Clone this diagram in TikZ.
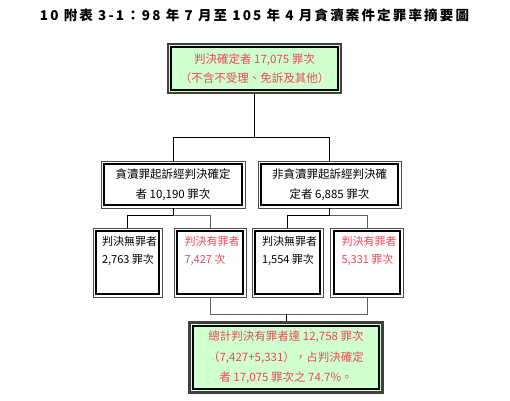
\documentclass[tikz,border=0pt]{standalone}
\usepackage{fontspec}
\setmainfont{Noto Sans CJK TC}
\newfontfamily\titlefont[LetterSpace=16]{Noto Sans CJK TC}
\usetikzlibrary{positioning}

\definecolor{boxgreen}{RGB}{208,255,208}
\definecolor{redtext}{RGB}{236,72,84}

\tikzset{
  wbox/.style={rectangle, draw=gray!60!black, line width=0.9pt, fill=white, inner sep=0pt, align=center,
    font=\fontsize{11.5}{19.5}\selectfont,
    path picture={\draw[black, line width=2.2pt]
      ([shift={(3.2pt,-3.2pt)}]path picture bounding box.north west) rectangle
      ([shift={(-3.2pt,3.2pt)}]path picture bounding box.south east);}},
  gbox/.style={wbox, draw=gray!50!black, line width=2.4pt, fill=boxgreen, text=redtext},
  cellbox/.style={wbox, inner xsep=5.5pt, inner ysep=8pt, font=\fontsize{11}{18}\selectfont},
  conn/.style={draw=black, line width=0.8pt},
  connr/.style={draw=gray!75!black, line width=1pt}
}
\newcommand{\celltext}[1]{\parbox[c][53pt][t]{58pt}{\raggedright\leftskip=3.5pt #1}}

\begin{document}
\begin{tikzpicture}[x=1pt, y=1pt]
    \useasboundingbox (0,0) rectangle (510,400);
    \node[font=\titlefont\bfseries\fontsize{13.5}{15}\selectfont] (title) at (254.5,385) {10 附表 3-1：98 年 7 月至 105 年 4 月貪瀆案件定罪率摘要圖};

    \node[gbox, minimum width=173pt, minimum height=49pt] (total) at (254.5,331.5) {判決確定者 17,075 罪次\\（不含不受理、免訴及其他）};
    \node[wbox, minimum width=144pt, minimum height=47pt] (graft) [below of=total, node distance=116pt, xshift=-81.5pt] {貪瀆罪起訴經判決確定\\者 10,190 罪次};
    \node[wbox, minimum width=143pt, minimum height=47pt] (other) [right of=graft, node distance=156.5pt] {非貪瀆罪起訴經判決確\\定者 6,885 罪次};

    \node[cellbox, minimum width=69pt, minimum height=69pt] (acqA) [below of=graft, node distance=78pt, xshift=-45.5pt] {\celltext{判決無罪者\\2,763 罪次}};
    \node[cellbox, minimum width=72pt, minimum height=69pt, text=redtext] (convA) [right of=acqA, node distance=82.5pt] {\celltext{判決有罪者\\7,427 次}};
    \node[cellbox, minimum width=71pt, minimum height=69pt] (acqB) [right of=convA, node distance=77.5pt] {\celltext{判決無罪者\\1,554 罪次}};
    \node[cellbox, minimum width=73pt, minimum height=69pt, text=redtext] (convB) [right of=acqB, node distance=79.5pt] {\celltext{判決有罪者\\5,331 罪次}};

    \node[gbox, minimum width=193pt, minimum height=70pt, font=\fontsize{11.5}{20.5}\selectfont] (sum) [below of=convA, node distance=95pt, xshift=76pt] {總計判決有罪者達 12,758 罪次\\（7,427+5,331），占判決確定\\者 17,075 罪次之 74.7\%。};

    \draw[conn] (total.south) -- ++(0,-43pt) coordinate (split1);
    \draw[conn] (graft.north) |- (split1) -| (other.north);

    \draw[conn] (graft.south) -- ++(0,-7pt) coordinate (split2);
    \draw[conn] (acqA.north) |- (split2);
    \draw[connr] (split2) -| (convA.north);
    \draw[conn] (other.south) -- ++(0,-7pt) coordinate (split3);
    \draw[conn] (acqB.north) |- (split3);
    \draw[connr] (split3) -| (convB.north);

    \draw[connr] (convA.south) -- ++(0,-17pt) coordinate (join) -| (convB.south);
    \draw[conn] (sum.north) -- (sum.north |- join);
\end{tikzpicture}
\end{document}
